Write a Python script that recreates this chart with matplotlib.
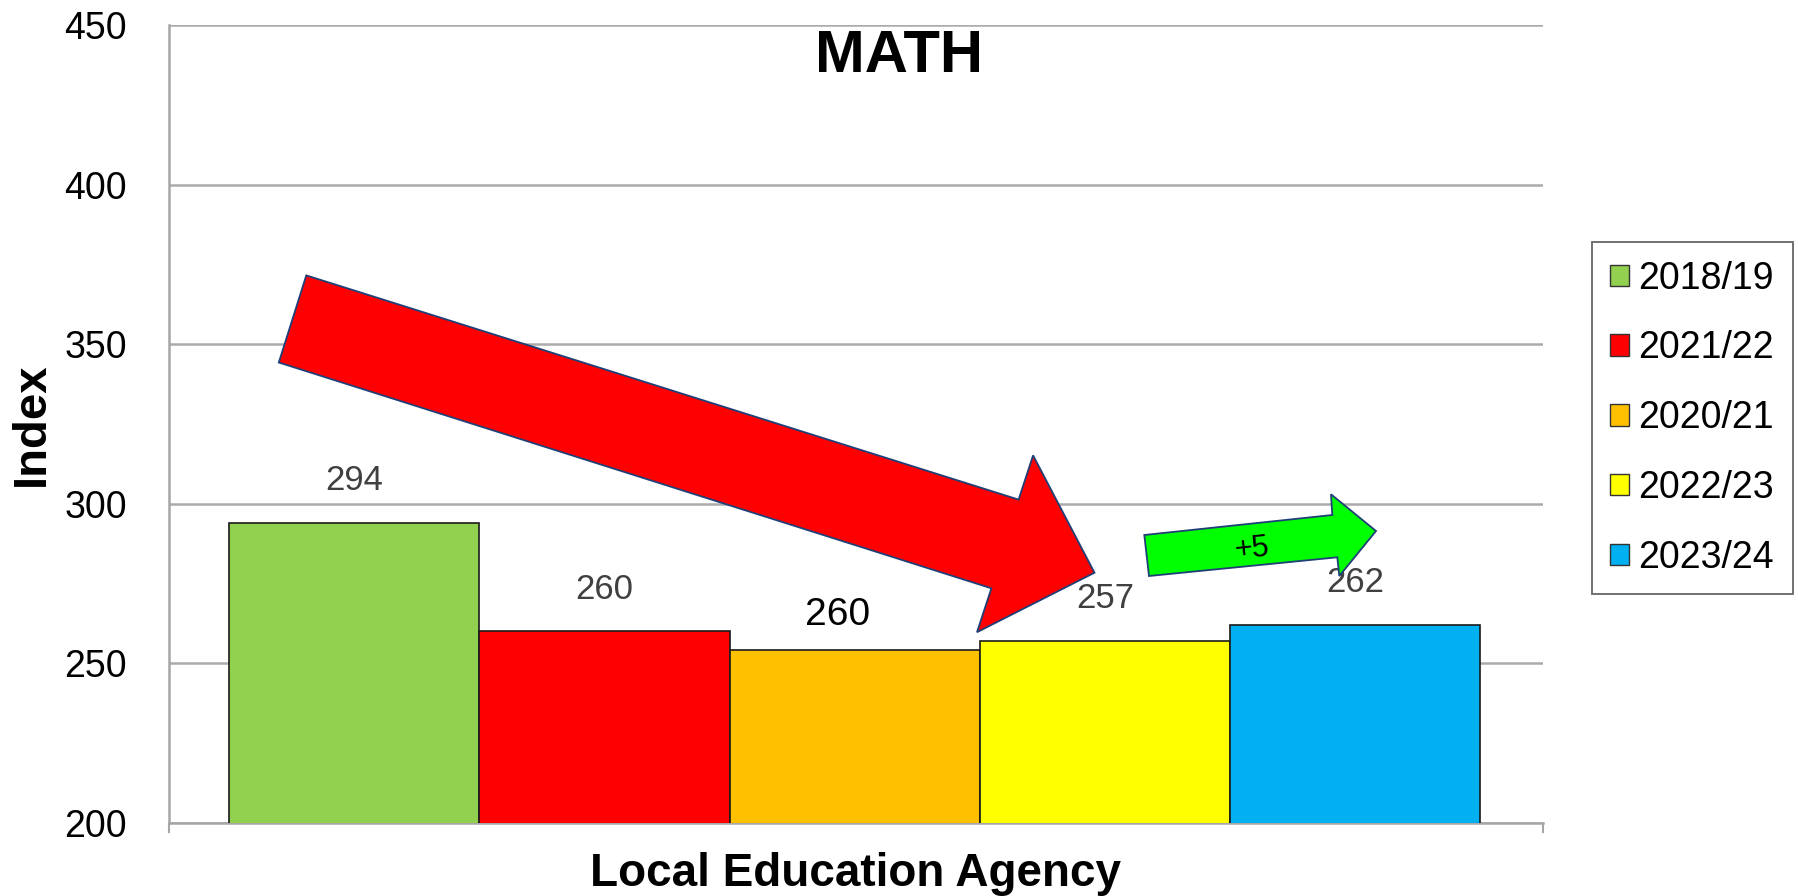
import matplotlib
matplotlib.use("Agg")
import matplotlib.pyplot as plt
from matplotlib.patches import Polygon, Patch

# ---- data ----
categories = ["2018/19", "2021/22", "2020/21", "2022/23", "2023/24"]
values = [294, 260, 254, 257, 262]
value_labels = ["294", "260", "260", "257", "262"]
colors = ["#92D050", "#FF0000", "#FFC000", "#FFFF00", "#00B0F0"]
yticks = [200, 250, 300, 350, 400, 450]
title = "MATH"
xlabel = "Local Education Agency"
ylabel = "Index"
change_label = "+5"

W, H = 1799, 896
fig = plt.figure(figsize=(W / 100, H / 100), dpi=100)
ax = fig.add_axes([168.6 / W, 1 - 822.6 / H, (1543 - 168.6) / W, (822.6 - 25) / H])

SANS = ["Liberation Sans", "DejaVu Sans"]
NARROW = ["Liberation Sans Narrow", "Liberation Sans", "DejaVu Sans"]

xs = list(range(len(values)))
bars = ax.bar(xs, values, width=1.0, color=colors, edgecolor="#1a1a1a", linewidth=1.2, zorder=3)

ax.set_ylim(200, 450)
ax.set_xlim(-0.743, 4.752)
ax.set_yticks(yticks)
ax.set_yticklabels([str(t) for t in yticks], family=SANS, fontsize=27)
ax.tick_params(axis="y", length=0, pad=30)
ax.set_xticks([-0.743, 4.752])
ax.set_xticklabels(["", ""])
ax.tick_params(axis="x", length=7, width=1.5, color="#A6A6A6", direction="out")
ax.grid(axis="y", color="#ABABAB", linewidth=1.8, zorder=0)
ax.set_axisbelow(True)
for s in ["top", "right"]:
    ax.spines[s].set_visible(False)
ax.spines["left"].set_color("#A6A6A6")
ax.spines["left"].set_linewidth(1.8)
ax.spines["bottom"].set_color("#A6A6A6")
ax.spines["bottom"].set_linewidth(1.8)

fig.text(32 / W, 1 - 424.5 / H, ylabel, rotation=90, ha="center", va="center",
         family=SANS, fontsize=34, fontweight="bold")
fig.text(855.8 / W, 1 - 874 / H, xlabel, ha="center", va="center",
         family=SANS, fontsize=33, fontweight="bold")

# value labels
for i, (x, v, lab) in enumerate(zip(xs, values, value_labels)):
    if i == 2:
        ax.annotate(lab, xy=(x, v), xytext=(-17, 35), textcoords="offset pixels",
                    ha="center", va="center", family=NARROW, fontsize=28, color="black", zorder=5)
    else:
        ax.annotate(lab, xy=(x, v), xytext=(0, 42), textcoords="offset pixels",
                    ha="center", va="center", family=NARROW, fontsize=25, color="#404040", zorder=5)

fig.text(899 / W, 1 - 57 / H, title, ha="center", va="center",
         family=SANS, fontsize=43, fontweight="bold")

def figpoly(pts, fc):
    p = Polygon([(x / W, 1 - y / H) for x, y in pts], closed=True, facecolor=fc,
                edgecolor="#1F3F77", linewidth=1.3, transform=fig.transFigure, zorder=10)
    fig.add_artist(p)

# red decline arrow
figpoly([(306.3, 275.4), (1018.6, 499.6), (1033.1, 455.4), (1094.5, 572.7),
         (977.0, 632.2), (991.4, 588.3), (278.8, 362.5)], "#FF0000")
# green increase arrow
figpoly([(1144.3, 535), (1332.3, 515), (1331, 494.3), (1376, 531),
         (1339.3, 576), (1337.3, 557.3), (1149, 576)], "#00FF00")
fig.text(1251.7 / W, 1 - 549 / H, change_label, ha="center", va="center", rotation=6,
         family=NARROW, fontsize=22, color="black", zorder=11)

handles = [Patch(facecolor=c, edgecolor="#333333", linewidth=1.0) for c in colors]
leg = fig.legend(handles, categories, loc="upper left",
                 bbox_to_anchor=(1591.7 / W, 1 - 242 / H), bbox_transform=fig.transFigure,
                 borderaxespad=0, fancybox=False, frameon=True,
                 prop={"family": SANS, "size": 27},
                 handlelength=0.5, handleheight=0.5, handletextpad=0.25,
                 labelspacing=0.9, borderpad=0.5)
leg.get_frame().set_edgecolor("#404040")
leg.get_frame().set_linewidth(1.3)

fig.savefig("out.png", dpi=100)
